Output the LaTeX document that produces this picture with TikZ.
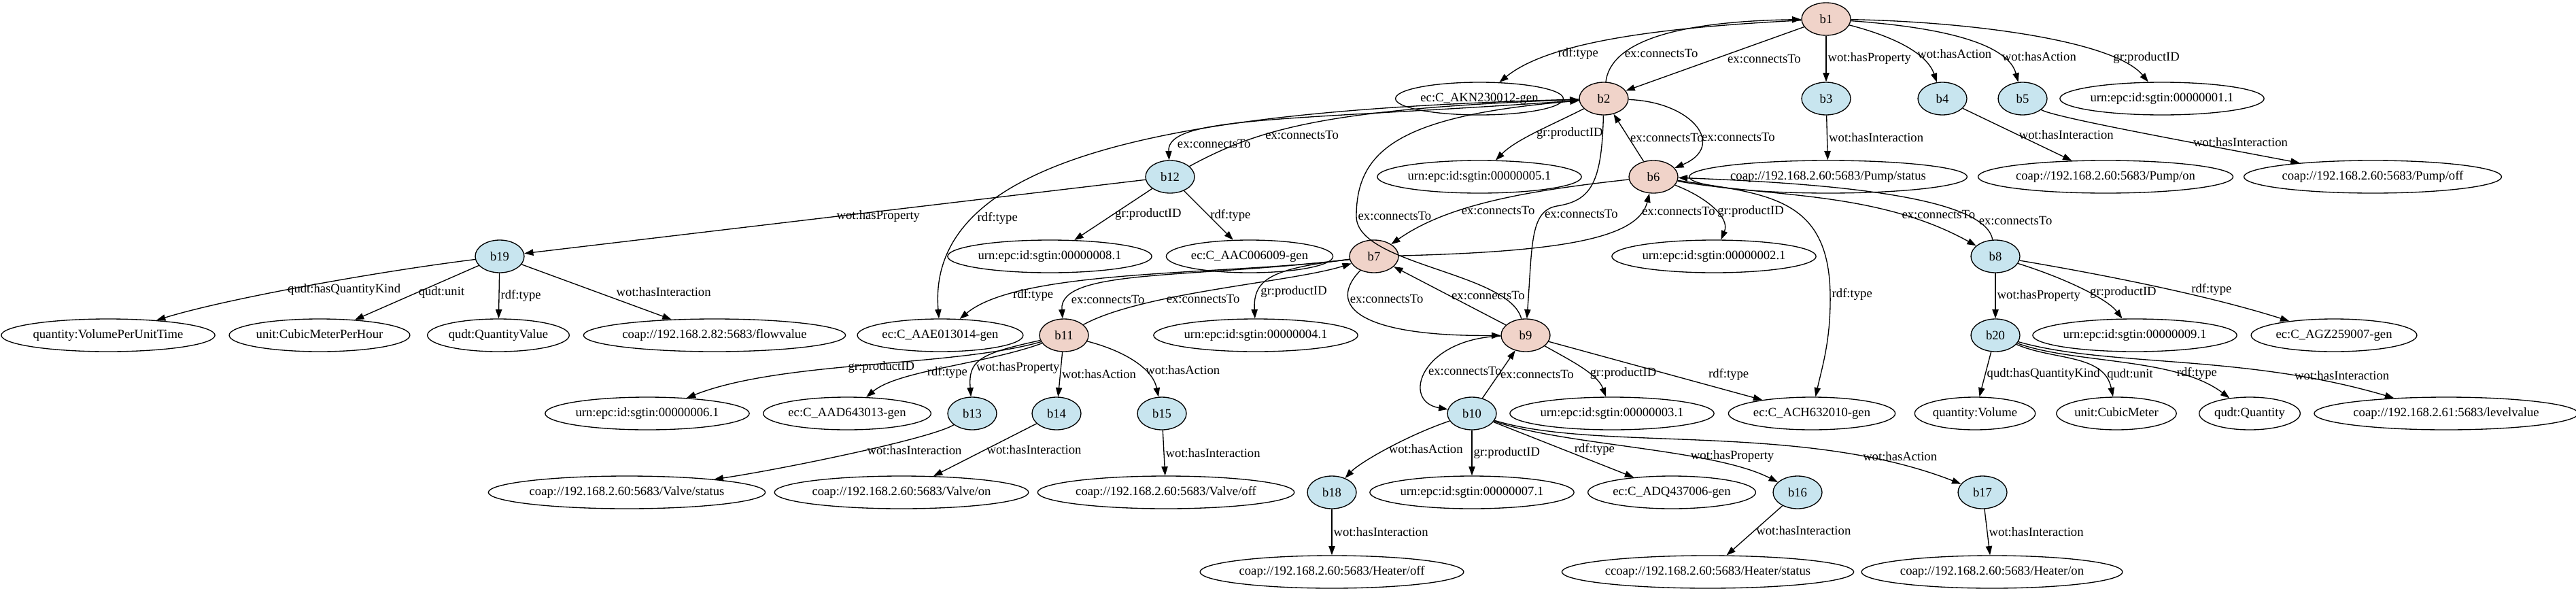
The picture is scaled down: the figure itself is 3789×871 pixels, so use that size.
\documentclass[tikz,border=0pt]{standalone}
\usepackage{fontspec}
\setmainfont{Liberation Serif}
\usepackage{tikz}
\usetikzlibrary{arrows.meta,shapes.geometric}
\definecolor{thingfill}{RGB}{240,211,201}
\definecolor{propfill}{RGB}{200,229,239}

\begin{document}
\begin{tikzpicture}[
  x=0.75pt, y=-0.75pt,
  every node/.style={font=\fontsize{14}{16}\selectfont},
  thing/.style={draw, ellipse, line width=1pt, fill=thingfill, minimum width=54pt,
                minimum height=36pt, inner sep=0pt},
  prop/.style={thing, fill=propfill},
  lit/.style={draw, ellipse, line width=1pt, minimum width=54pt, minimum height=36pt,
              inner xsep=0.5pt, inner ysep=2pt, text height=10pt, text depth=3pt},
  arr/.style={-{Triangle[length=10pt, width=7pt]}, line width=1pt},
  lbl/.style={anchor=west, inner sep=1.5pt}]
  \useasboundingbox[fill=white] (0,0) rectangle (3789,871);

  % rank 0 and 1
  \node[thing] (b1) at (2686,28) {b1};
  \node[lit] (akn) at (2176,145) {ec:C\_AKN230012-gen};
  \node[thing] (b2) at (2359,145) {b2};
  \node[prop] (b3) at (2686,145) {b3};
  \node[prop] (b4) at (2857,145) {b4};
  \node[prop] (b5) at (2975,145) {b5};
  \node[lit] (u1) at (3180,145) {urn:epc:id:sgtin:00000001.1};
  % rank 2
  \node[prop] (b12) at (1721,260) {b12};
  \node[lit] (u5) at (2176,260) {urn:epc:id:sgtin:00000005.1};
  \node[thing] (b6) at (2432,260) {b6};
  \node[lit] (pstat) at (2689,260) {coap://192.168.2.60:5683/Pump/status};
  \node[lit] (pon) at (3097,260) {coap://192.168.2.60:5683/Pump/on};
  \node[lit] (poff) at (3490,260) {coap://192.168.2.60:5683/Pump/off};
  % rank 3
  \node[prop] (b19) at (735,377) {b19};
  \node[lit] (u8) at (1544,377) {urn:epc:id:sgtin:00000008.1};
  \node[lit] (aac) at (1838,377) {ec:C\_AAC006009-gen};
  \node[thing] (b7) at (2021,377) {b7};
  \node[lit] (u2) at (2521,377) {urn:epc:id:sgtin:00000002.1};
  \node[prop] (b8) at (2935,377) {b8};
  % rank 4
  \node[lit] (qvpt) at (159,493) {quantity:VolumePerUnitTime};
  \node[lit] (ucmh) at (470,493) {unit:CubicMeterPerHour};
  \node[lit] (qqv) at (733,493) {qudt:QuantityValue};
  \node[lit] (flow) at (1051,493) {coap://192.168.2.82:5683/flowvalue};
  \node[lit] (aae) at (1383,493) {ec:C\_AAE013014-gen};
  \node[thing] (b11) at (1565,493) {b11};
  \node[lit] (u4) at (1847,493) {urn:epc:id:sgtin:00000004.1};
  \node[thing] (b9) at (2244,493) {b9};
  \node[prop] (b20) at (2935,493) {b20};
  \node[lit] (u9) at (3140,493) {urn:epc:id:sgtin:00000009.1};
  \node[lit] (agz) at (3433,493) {ec:C\_AGZ259007-gen};
  % rank 5
  \node[lit] (u6) at (952,608) {urn:epc:id:sgtin:00000006.1};
  \node[lit] (aad) at (1246,608) {ec:C\_AAD643013-gen};
  \node[prop] (b13) at (1430,608) {b13};
  \node[prop] (b14) at (1554,608) {b14};
  \node[prop] (b15) at (1709,608) {b15};
  \node[prop] (b10) at (2165,608) {b10};
  \node[lit] (u3) at (2371,608) {urn:epc:id:sgtin:00000003.1};
  \node[lit] (ach) at (2665,608) {ec:C\_ACH632010-gen};
  \node[lit] (qvol) at (2905,608) {quantity:Volume};
  \node[lit] (ucm) at (3113,608) {unit:CubicMeter};
  \node[lit] (qq) at (3309,608) {qudt:Quantity};
  \node[lit] (level) at (3598,608) {coap://192.168.2.61:5683/levelvalue};
  % rank 6 and 7
  \node[lit] (vstat) at (922,724) {coap://192.168.2.60:5683/Valve/status};
  \node[lit] (von) at (1326,724) {coap://192.168.2.60:5683/Valve/on};
  \node[lit] (voff) at (1715,724) {coap://192.168.2.60:5683/Valve/off};
  \node[prop] (b18) at (1959,724) {b18};
  \node[lit] (u7) at (2165,724) {urn:epc:id:sgtin:00000007.1};
  \node[lit] (adq) at (2459,724) {ec:C\_ADQ437006-gen};
  \node[prop] (b16) at (2644,724) {b16};
  \node[prop] (b17) at (2916,724) {b17};
  \node[lit] (hoff) at (1959,841) {coap://192.168.2.60:5683/Heater/off};
  \node[lit] (hstat) at (2512,841) {ccoap://192.168.2.60:5683/Heater/status};
  \node[lit] (hon) at (2930,841) {coap://192.168.2.60:5683/Heater/on};

  % edges from b1
  \draw[arr] (b1) .. controls (2450,40) and (2280,60) .. (akn) node[lbl, pos=0.72] {rdf:type};
  \draw[arr] (b2) .. controls (2368,70) and (2440,32) .. (b1) node[lbl, pos=0.3] {ex:connectsTo};
  \draw[arr] (b1) -- (b2) node[lbl, pos=0.5, xshift=12pt] {ex:connectsTo};
  \draw[arr] (b1) -- (b3) node[lbl, pos=0.5] {wot:hasProperty};
  \draw[arr] (b1) .. controls (2790,55) and (2835,80) .. (b4) node[lbl, pos=0.6] {wot:hasAction};
  \draw[arr] (b1) .. controls (2880,42) and (2955,70) .. (b5) node[lbl, pos=0.72] {wot:hasAction};
  \draw[arr] (b1) .. controls (2900,32) and (3110,60) .. (u1) node[lbl, pos=0.78] {gr:productID};
  \draw[arr] (b3) -- (pstat) node[lbl, pos=0.5] {wot:hasInteraction};
  \draw[arr] (b4) -- (pon) node[lbl, pos=0.5] {wot:hasInteraction};
  \draw[arr] (b5) .. controls (3020,172) and (3200,205) .. (poff) node[lbl, pos=0.7] {wot:hasInteraction};

  % edges from b2, b12
  \draw[arr] (b2) .. controls (1900,178) and (1716,170) .. (b12) node[lbl, pos=0.86] {ex:connectsTo};
  \draw[arr] (b12) .. controls (1850,190) and (1950,160) .. (b2) node[lbl, pos=0.33] {ex:connectsTo};
  \draw[arr] (b2) .. controls (2490,150) and (2540,215) .. (b6) node[lbl, pos=0.62] {ex:connectsTo};
  \draw[arr] (b6) -- (b2) node[lbl, pos=0.5] {ex:connectsTo};
  \draw[arr] (b2) .. controls (2280,185) and (2230,205) .. (u5) node[lbl, pos=0.5] {gr:productID};
  \draw[arr] (b2) .. controls (1800,160) and (1360,210) .. (aae) node[lbl, pos=0.77] {rdf:type};
  \draw[arr] (b2) .. controls (2356,270) and (2340,295) .. (2290,303)
    .. controls (2250,310) and (2254,360) .. (b9) node[lbl, pos=0.22] {ex:connectsTo};
  \draw[arr] (b12) -- (b19) node[lbl, pos=0.5] {wot:hasProperty};
  \draw[arr] (b12) -- (u8) node[lbl, pos=0.5] {gr:productID};
  \draw[arr] (b12) -- (aac) node[lbl, pos=0.5] {rdf:type};

  % edges from b6, b8
  \draw[arr] (b6) .. controls (2250,280) and (2130,300) .. (b7) node[lbl, pos=0.65] {ex:connectsTo};
  \draw[arr] (b6) .. controls (2510,290) and (2545,320) .. (u2) node[lbl, pos=0.55] {gr:productID};
  \draw[arr] (b6) .. controls (2600,285) and (2690,290) .. (2692,433) node[lbl] {rdf:type}
    .. controls (2693,500) and (2680,540) .. (ach);
  \draw[arr] (b6) .. controls (2600,290) and (2760,280) .. (b8) node[lbl, pos=0.75] {ex:connectsTo};
  \draw[arr] (b8) .. controls (2920,290) and (2700,270) .. (b6) node[lbl, pos=0.17] {ex:connectsTo};
  \draw[arr] (b8) -- (b20) node[lbl, pos=0.5] {wot:hasProperty};
  \draw[arr] (b8) .. controls (3040,410) and (3100,440) .. (u9) node[lbl, pos=0.55] {gr:productID};
  \draw[arr] (b8) .. controls (3100,405) and (3250,435) .. (agz) node[lbl, pos=0.55, xshift=20pt] {rdf:type};

  % edges from b19
  \draw[arr] (b19) .. controls (550,400) and (330,440) .. (qvpt) node[lbl, pos=0.55] {qudt:hasQuantityKind};
  \draw[arr] (b19) -- (ucmh) node[lbl, pos=0.5] {qudt:unit};
  \draw[arr] (b19) -- (qqv) node[lbl, pos=0.5] {rdf:type};
  \draw[arr] (b19) -- (flow) node[lbl, pos=0.5, xshift=20pt] {wot:hasInteraction};

  % edges from b7
  \draw[arr] (b7) .. controls (2300,370) and (2410,350) .. (b6) node[lbl, pos=0.85] {ex:connectsTo};
  \draw[arr] (b7) .. controls (1800,405) and (1500,395) .. (aae) node[lbl, pos=0.8] {rdf:type};
  \draw[arr] (b7) .. controls (1750,410) and (1557,395) .. (b11) node[lbl, pos=0.85] {ex:connectsTo};
  \draw[arr] (b7) .. controls (1870,395) and (1843,410) .. (u4) node[lbl, pos=0.72] {gr:productID};
  \draw[arr] (b7) .. controls (1950,450) and (2000,495) .. (b9) node[lbl, pos=0.28] {ex:connectsTo};

  % edges from b9
  \draw[arr] (b9) .. controls (2220,400) and (1995,390) .. (1995,318) node[lbl] {ex:connectsTo}
    .. controls (1995,220) and (2060,170) .. (b2);
  \draw[arr] (b9) -- (b7) node[lbl, pos=0.5] {ex:connectsTo};
  \draw[arr] (b9) .. controls (2090,498) and (2060,590) .. (b10) node[lbl, pos=0.5] {ex:connectsTo};
  \draw[arr] (b9) .. controls (2310,530) and (2350,550) .. (u3) node[lbl, pos=0.6] {gr:productID};
  \draw[arr] (b9) -- (ach) node[lbl, pos=0.57, xshift=40pt] {rdf:type};

  % edges from b11
  \draw[arr] (b11) .. controls (1680,430) and (1900,415) .. (b7) node[lbl, pos=0.33] {ex:connectsTo};
  \draw[arr] (b11) .. controls (1400,540) and (1150,530) .. (u6) node[lbl, pos=0.55] {gr:productID};
  \draw[arr] (b11) .. controls (1450,535) and (1320,545) .. (aad) node[lbl, pos=0.6] {rdf:type};
  \draw[arr] (b11) .. controls (1440,520) and (1424,530) .. (b13) node[lbl, pos=0.65] {wot:hasProperty};
  \draw[arr] (b11) -- (b14) node[lbl, pos=0.5] {wot:hasAction};
  \draw[arr] (b11) .. controls (1650,515) and (1695,540) .. (b15) node[lbl, pos=0.65] {wot:hasAction};
  \draw[arr] (b13) .. controls (1370,645) and (1150,690) .. (vstat) node[lbl, pos=0.45] {wot:hasInteraction};
  \draw[arr] (b14) -- (von) node[lbl, pos=0.5] {wot:hasInteraction};
  \draw[arr] (b15) -- (voff) node[lbl, pos=0.5] {wot:hasInteraction};

  % edges from b20
  \draw[arr] (b20) -- (qvol) node[lbl, pos=0.5] {qudt:hasQuantityKind};
  \draw[arr] (b20) .. controls (3020,530) and (3095,520) .. (ucm) node[lbl, pos=0.78, xshift=4pt] {qudt:unit};
  \draw[arr] (b20) .. controls (3050,535) and (3200,525) .. (qq) node[lbl, pos=0.72] {rdf:type};
  \draw[arr] (b20) .. controls (3100,540) and (3300,520) .. (level) node[lbl, pos=0.77] {wot:hasInteraction};

  % edges from b10
  \draw[arr] (b10) -- (b9) node[lbl, pos=0.5] {ex:connectsTo};
  \draw[arr] (b10) .. controls (2070,640) and (2000,680) .. (b18) node[lbl, pos=0.5] {wot:hasAction};
  \draw[arr] (b10) -- (u7) node[lbl, pos=0.5] {gr:productID};
  \draw[arr] (b10) -- (adq) node[lbl, pos=0.5, xshift=10pt] {rdf:type};
  \draw[arr] (b10) .. controls (2300,655) and (2520,660) .. (b16) node[lbl, pos=0.66] {wot:hasProperty};
  \draw[arr] (b10) .. controls (2350,665) and (2650,620) .. (b17) node[lbl, pos=0.8] {wot:hasAction};
  \draw[arr] (b18) -- (hoff) node[lbl, pos=0.5] {wot:hasInteraction};
  \draw[arr] (b16) -- (hstat) node[lbl, pos=0.5] {wot:hasInteraction};
  \draw[arr] (b17) -- (hon) node[lbl, pos=0.5] {wot:hasInteraction};
\end{tikzpicture}
\end{document}
